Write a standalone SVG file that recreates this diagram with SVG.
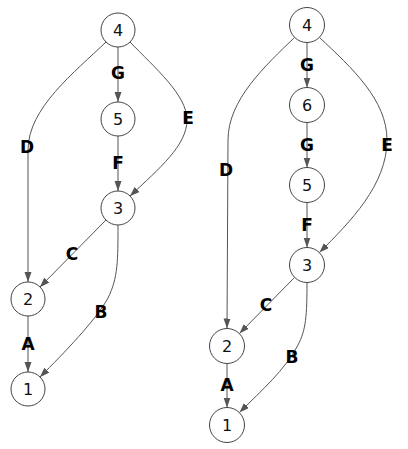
<svg xmlns="http://www.w3.org/2000/svg" width="408" height="449" viewBox="0 0 408 449">
<style>
.n circle{fill:#fff;stroke:#444;stroke-width:1}
.n text{font-family:"DejaVu Sans",sans-serif;font-size:16px;fill:#111;text-anchor:middle}
.e path{fill:none;stroke:#555;stroke-width:1;marker-end:url(#ah)}
.l{font-family:"DejaVu Sans",sans-serif;font-size:17px;font-weight:bold;fill:#000;text-anchor:middle}
</style>
<defs>
<marker id="ah" markerUnits="userSpaceOnUse" markerWidth="10" markerHeight="8" refX="10" refY="3.5" orient="auto">
<path d="M0,0 L10,3.5 L0,7 z" fill="#555"/>
</marker>
</defs>
<rect width="408" height="449" fill="#fff"/>
<g id="connectors" class="e">
<path d="M118,47 L118,102"/>
<path d="M118,136 L118,191"/>
<path d="M129.8,41.8 C155,68 187,95 187,120 C187,145 160,168 129.8,196.2"/>
<path d="M106.2,41.8 C75,72 28,108 28,150 L28,282"/>
<path d="M106.2,219.8 L39.8,287.2"/>
<path d="M118,225 C118,260 118,278 108,298 C96,320 65,352 39.8,377.2"/>
<path d="M28,316 L28,372"/>
<path d="M307,42.5 L307,87.5"/>
<path d="M307,122.5 L307,167.5"/>
<path d="M307,202.5 L307,247.5"/>
<path d="M319.4,37.4 C352,68 387,100 387,140 C387,185 350,222 319.4,252.6"/>
<path d="M294.6,37.4 C265,66 228,100 228,140 L227,328.5"/>
<path d="M294.6,277.4 L239.4,333.6"/>
<path d="M307,282.5 C307,315 306,330 298,345 C285,370 262,390 239.4,412.6"/>
<path d="M227,363.5 L227,407.5"/>
</g>
<g id="labels">
<text class="l" x="118" y="79">G</text>
<text class="l" x="118" y="169">F</text>
<text class="l" x="188" y="124">E</text>
<text class="l" x="27" y="153">D</text>
<text class="l" x="72" y="260">C</text>
<text class="l" x="101" y="318">B</text>
<text class="l" x="28" y="350">A</text>
<text class="l" x="307" y="71">G</text>
<text class="l" x="307" y="151">G</text>
<text class="l" x="307" y="231">F</text>
<text class="l" x="387" y="151">E</text>
<text class="l" x="226" y="176">D</text>
<text class="l" x="266" y="311">C</text>
<text class="l" x="292" y="363">B</text>
<text class="l" x="227" y="391">A</text>
</g>
<g id="a4" class="n"><circle cx="118" cy="30" r="17"/><text x="118" y="36">4</text></g>
<g id="a5" class="n"><circle cx="118" cy="119" r="17"/><text x="118" y="125">5</text></g>
<g id="a3" class="n"><circle cx="118" cy="208" r="17"/><text x="118" y="214">3</text></g>
<g id="a2" class="n"><circle cx="28" cy="299" r="17"/><text x="28" y="305">2</text></g>
<g id="a1" class="n"><circle cx="28" cy="389" r="17"/><text x="28" y="395">1</text></g>
<g id="b4" class="n"><circle cx="307" cy="25" r="17.5"/><text x="307" y="31">4</text></g>
<g id="b6" class="n"><circle cx="307" cy="105" r="17.5"/><text x="307" y="111">6</text></g>
<g id="b5" class="n"><circle cx="307" cy="185" r="17.5"/><text x="307" y="191">5</text></g>
<g id="b3" class="n"><circle cx="307" cy="265" r="17.5"/><text x="307" y="271">3</text></g>
<g id="b2" class="n"><circle cx="227" cy="346" r="17.5"/><text x="227" y="352">2</text></g>
<g id="b1" class="n"><circle cx="227" cy="425" r="17.5"/><text x="227" y="431">1</text></g>
</svg>
